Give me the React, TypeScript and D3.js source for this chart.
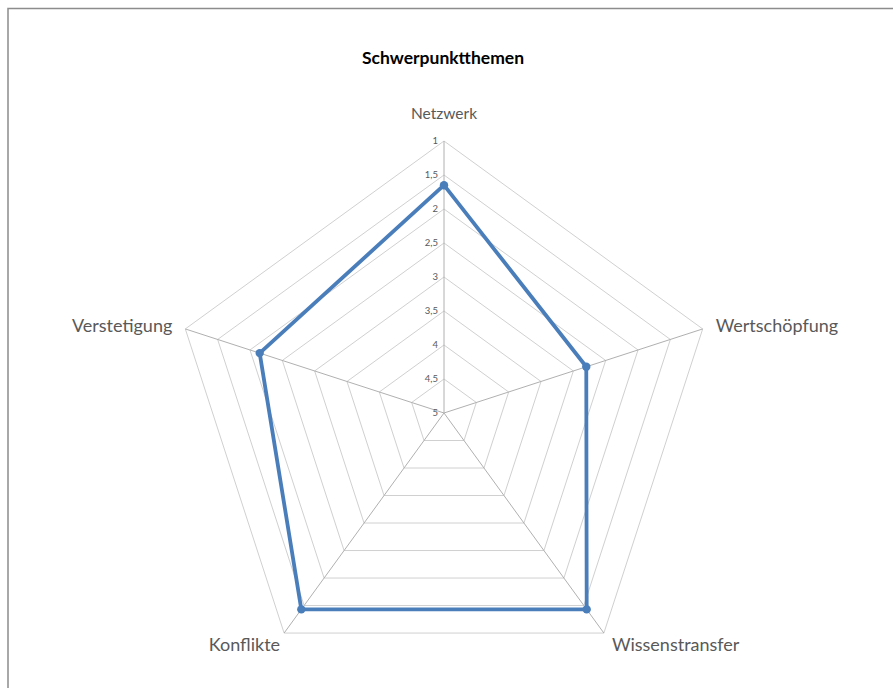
import React from "react";
import * as d3 from "d3";

const categories = ["Netzwerk", "Wertschöpfung", "Wissenstransfer", "Konflikte", "Verstetigung"];
const values = [1.65, 2.8, 1.43, 1.43, 2.15];
const ticks = [1, 1.5, 2, 2.5, 3, 3.5, 4, 4.5, 5];
const tickLabels = ["1", "1,5", "2", "2,5", "3", "3,5", "4", "4,5", "5"];
const title = "Schwerpunktthemen";

const W = 893;
const H = 688;
const cx = 444;
const cy = 413;
const R = 272;
const FONT = "Lato, 'Open Sans', sans-serif";

export default function App() {
  const rScale = d3.scaleLinear().domain([5, 1]).range([0, R]);
  const angle = d3
    .scaleLinear()
    .domain([0, categories.length])
    .range([0, 2 * Math.PI]);
  const pt = (i: number, v: number): [number, number] => {
    const a = angle(i);
    const r = rScale(v);
    return [cx + r * Math.sin(a), cy - r * Math.cos(a)];
  };
  const line = d3.line<[number, number]>().curve(d3.curveLinearClosed);

  const rings = ticks.filter((t) => t !== 5);
  const dataPts = values.map((v, i) => pt(i, v));

  const labelPos = (i: number) => {
    const [x, y] = pt(i, 1);
    if (i === 0) return { x, y: y - 26, anchor: "middle", size: 15.5 };
    if (i === 1) return { x: x + 13, y: y - 2, anchor: "start", size: 18 };
    if (i === 2) return { x: x + 8, y: y + 13, anchor: "start", size: 18 };
    if (i === 3) return { x: x - 4, y: y + 13, anchor: "end", size: 18 };
    return { x: x - 13, y: y - 2, anchor: "end", size: 18 };
  };

  return (
    <svg
      width={W}
      height={H}
      style={{ position: "absolute", left: 0, top: 0, background: "#fff" }}
    >
      <rect x={0} y={0} width={W} height={H} fill="#fff" />
      <rect x={8} y={8.5} width={W + 20} height={H + 20} fill="none" stroke="#8c8c8c" strokeWidth={1.5} />
      <text
        x={443}
        y={64}
        textAnchor="middle"
        fontFamily={FONT}
        fontWeight="bold"
        fontSize={17.5}
        fill="#000"
      >
        {title}
      </text>
      {rings.map((t) => (
        <path
          key={t}
          d={line(categories.map((_, i) => pt(i, t))) || ""}
          fill="none"
          stroke="#d0d0d0"
          strokeWidth={1}
        />
      ))}
      {categories.map((_, i) => {
        const [x, y] = pt(i, 1);
        return <line key={i} x1={cx} y1={cy} x2={x} y2={y} stroke="#b0b0b0" strokeWidth={1} />;
      })}
      {ticks.map((t, k) => {
        const [x, y] = pt(0, t);
        return (
          <text
            key={t}
            x={x - 6}
            y={y + 3}
            textAnchor="end"
            fontFamily={FONT}
            fontSize={9.5}
            fill="#595959"
          >
            {tickLabels[k]}
          </text>
        );
      })}
      <path
        d={line(dataPts) || ""}
        fill="none"
        stroke="#4a7ebb"
        strokeWidth={3.8}
        strokeLinejoin="round"
      />
      {dataPts.map(([x, y], i) => (
        <circle key={i} cx={x} cy={y} r={4.2} fill="#4a7ebb" />
      ))}
      {categories.map((c, i) => {
        const p = labelPos(i);
        return (
          <text
            key={c}
            x={p.x}
            y={p.y}
            textAnchor={p.anchor as any}
            dominantBaseline="middle"
            fontFamily={FONT}
            fontSize={p.size}
            fill="#595959"
          >
            {c}
          </text>
        );
      })}
    </svg>
  );
}
